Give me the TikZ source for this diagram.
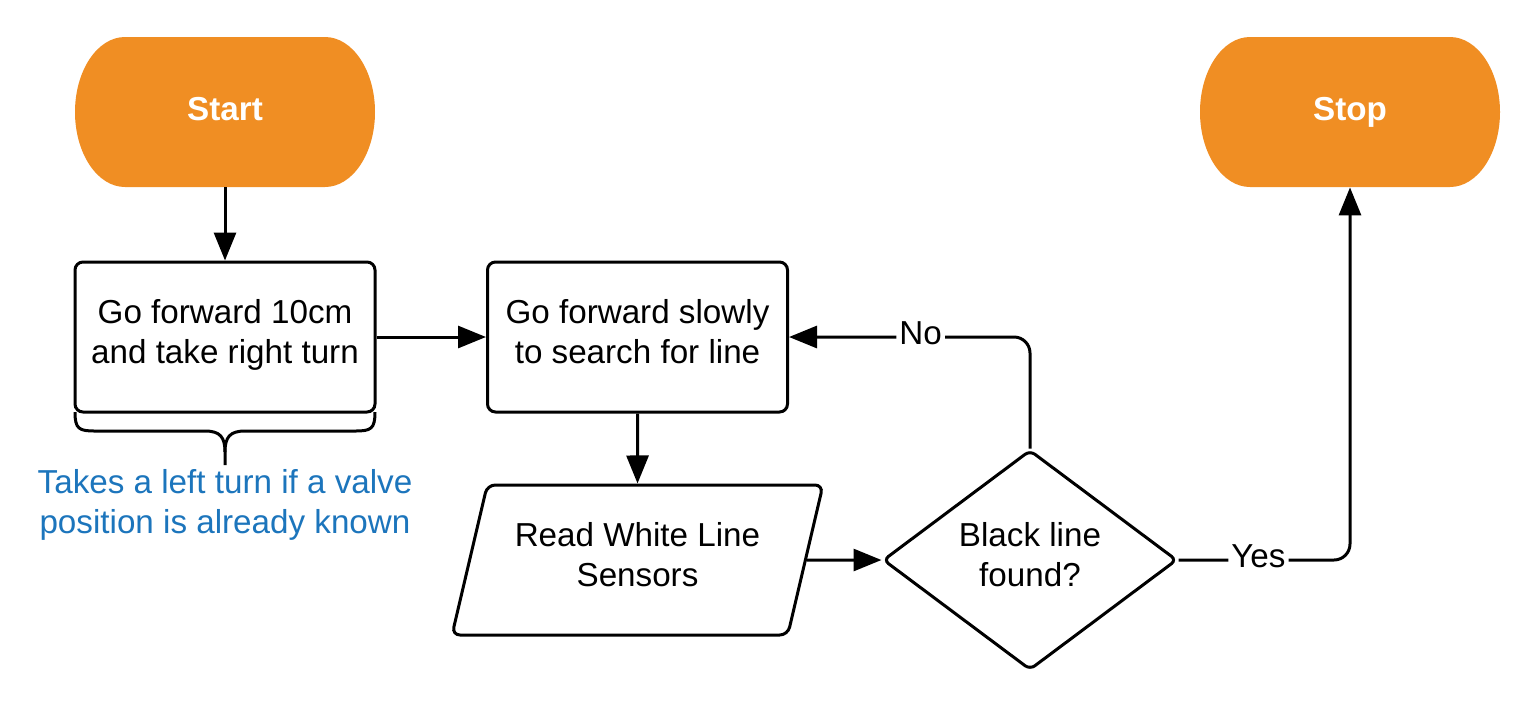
\documentclass[tikz,border=0pt]{standalone}
\usepackage{fontspec}
\setmainfont{Liberation Sans}
\usetikzlibrary{shapes.geometric,arrows.meta}
\definecolor{termorange}{RGB}{240,142,35}
\definecolor{noteblue}{RGB}{28,117,188}
\begin{document}
\begin{tikzpicture}[x=0.5pt,y=-0.5pt,
  every node/.style={font=\fontsize{16.6}{20}\selectfont},
  termtext/.style={minimum width=150pt,minimum height=75pt,inner sep=0pt,text depth=3pt,text=white,font=\bfseries\fontsize{16.6}{20}\selectfont},
  procbox/.style={draw,line width=1.5pt,rounded corners=4pt,minimum width=150pt,minimum height=75pt,align=center,inner sep=0pt,text depth=5.75pt},
  iobox/.style={trapezium,trapezium left angle=65,trapezium right angle=115,trapezium stretches body,draw,line width=1.5pt,rounded corners=4pt,minimum width=185.5pt,minimum height=75pt,align=center,inner sep=0pt,text depth=5.75pt},
  decbox/.style={diamond,draw,line width=1.5pt,rounded corners=3pt,minimum width=147pt,minimum height=110pt,inner sep=0pt,align=center,text depth=5.75pt},
  flow/.style={line width=1.5pt,-{Triangle[length=14pt,width=11pt]}},
  lbl/.style={fill=white,inner sep=1.5pt,text depth=4pt}]
\useasboundingbox (0,0) rectangle (1538,709);
% terminals
\fill[termorange] (125,37) -- (325,37) arc[start angle=270,end angle=450,x radius=50,y radius=75] -- (125,187) arc[start angle=90,end angle=270,x radius=50,y radius=75] -- cycle;
\fill[termorange] (1250,37) -- (1450,37) arc[start angle=270,end angle=450,x radius=50,y radius=75] -- (1250,187) arc[start angle=90,end angle=270,x radius=50,y radius=75] -- cycle;
\node[termtext] (start) at (225,112) {Start};
\node[termtext] (stop) at (1350,112) {Stop};
% process
\node[procbox] (fwd) at (225,337) {Go forward 10cm\\and take right turn};
\node[procbox] (slow) at (637.5,337) {Go forward slowly\\to search for line};
\node[iobox] (read) at (637.5,560) {Read White Line\\Sensors};
\node[decbox] (dec) at (1030,560) {Black line\\found?};
% brace and note
\draw[line width=1.5pt,line join=round] (75,412) .. controls (75,429) and (79,431) .. (95,431) -- (205,431) .. controls (220,431) and (225,437) .. (225,452) -- (225,465);
\draw[line width=1.5pt,line join=round] (375,412) .. controls (375,429) and (371,431) .. (355,431) -- (245,431) .. controls (230,431) and (225,437) .. (225,452);
\node[text=noteblue,align=center] (note) at (225,505) {Takes a left turn if a valve\\position is already known};
% connectors
\draw[flow] (start.south) -- (fwd.north);
\draw[flow] (fwd.east) -- (slow.west);
\draw[flow] (slow.south) -- (read.north);
\draw[flow] (read.east) -- (dec.west);
\draw[flow,rounded corners=8pt] (dec.north) |- node[lbl,pos=0.727] {No} (slow.east);
\draw[flow,rounded corners=8pt] (dec.east) -| node[lbl,pos=0.233] {Yes} (stop.south);
\end{tikzpicture}
\end{document}
